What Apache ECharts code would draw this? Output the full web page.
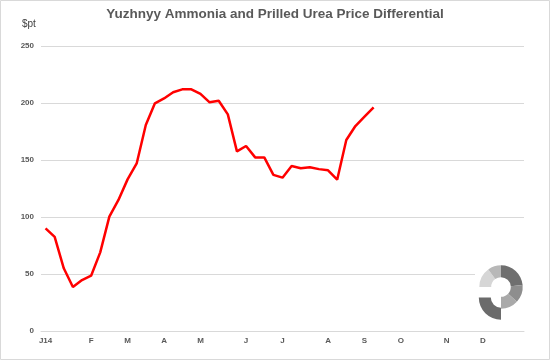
<!DOCTYPE html>
<html>
<head>
<meta charset="utf-8">
<script src="https://cdn.jsdelivr.net/npm/echarts@6/dist/echarts.min.js"></script>
<style>
  html, body { margin: 0; padding: 0; background: #fff; }
  #chart { width: 550px; height: 360px; }
</style>
</head>
<body>
<div id="chart"></div>
<script>
// Weekly categories (first week date of each week, 2014)
const weekDates = [
  '2014-01-02','2014-01-09','2014-01-16','2014-01-23','2014-01-30',
  '2014-02-06','2014-02-13','2014-02-20','2014-02-27',
  '2014-03-06','2014-03-13','2014-03-20','2014-03-27',
  '2014-04-03','2014-04-10','2014-04-17','2014-04-24',
  '2014-05-01','2014-05-08','2014-05-15','2014-05-22','2014-05-29',
  '2014-06-05','2014-06-12','2014-06-19','2014-06-26',
  '2014-07-03','2014-07-10','2014-07-17','2014-07-24','2014-07-31',
  '2014-08-07','2014-08-14','2014-08-21','2014-08-28',
  '2014-09-04','2014-09-11','2014-09-18','2014-09-25',
  '2014-10-02','2014-10-09','2014-10-16','2014-10-23','2014-10-30',
  '2014-11-06','2014-11-13','2014-11-20','2014-11-27',
  '2014-12-04','2014-12-11','2014-12-18','2014-12-25',
  '2015-01-01'
];
// Month tick labels (Jan..Dec)
const monthLabels = ['J14','F','M','A','M','J','J','A','S','O','N','D'];
// Price differential, $/t
const differential = [
  90, 82.5, 55, 38.6, 44.7, 48.5, 69, 100.3, 115, 133, 147, 180.7,
  199.7, 204, 209.4, 212, 212, 208, 200.6, 202, 190, 157.6, 162.3,
  152.3, 152.3, 137, 134.5, 144.7, 142.7, 143.6, 142, 141, 132.7,
  167.5, 179.8, 188, 196.2
];
const yTicks = { min: 0, max: 250, interval: 50 };

const FONT = 'Liberation Sans, Arial, sans-serif';
const chart = echarts.init(document.getElementById('chart'));
const deg = d => d * Math.PI / 180;

function isMonthStart(val) {
  const parts = val.split('-');
  return parts[0] === '2014' && parseInt(parts[2], 10) <= 7;
}

const option = {
  animation: false,
  textStyle: { fontFamily: FONT },
  title: {
    text: 'Yuzhnyy Ammonia and Prilled Urea Price Differential',
    left: 'center',
    top: 7,
    padding: 0,
    textStyle: { fontSize: 13.5, fontWeight: 'bold', color: '#595959', fontFamily: FONT }
  },
  grid: { left: 41, right: 26, top: 46, bottom: 29 },
  xAxis: {
    type: 'category',
    data: weekDates,
    boundaryGap: true,
    axisLine: { lineStyle: { color: '#d9d9d9', width: 1 } },
    axisTick: { show: false },
    splitLine: { show: false },
    axisLabel: {
      interval: (idx, val) => isMonthStart(val),
      formatter: val => isMonthStart(val) ? monthLabels[parseInt(val.split('-')[1], 10) - 1] : '',
      fontSize: 8,
      fontWeight: 'bold',
      color: '#595959',
      margin: 6,
      fontFamily: FONT
    }
  },
  yAxis: {
    type: 'value',
    min: yTicks.min,
    max: yTicks.max,
    interval: yTicks.interval,
    axisLine: { show: false },
    axisTick: { show: false },
    splitLine: { lineStyle: { color: '#d9d9d9', width: 1 } },
    axisLabel: { fontSize: 8, fontWeight: 'bold', color: '#595959', margin: 7, fontFamily: FONT }
  },
  series: [{
    type: 'line',
    data: differential,
    symbol: 'none',
    lineStyle: { color: '#ff0000', width: 2.5 },
    itemStyle: { color: '#ff0000' }
  }],
  graphic: [
    {
      type: 'rect', z: 100, silent: true,
      shape: { x: 0.5, y: 0.5, width: 549, height: 359 },
      style: { fill: 'none', stroke: '#d9d9d9', lineWidth: 1 }
    },
    {
      type: 'text', z: 100, left: 22, top: 19,
      style: { text: '$pt', fontSize: 10, fill: '#404040', fontFamily: FONT }
    },
    {
      type: 'group', z: 100,
      children: [
        { type: 'rect', z: 100, shape: { x: 475, y: 262, width: 52, height: 62 }, style: { fill: '#ffffff' } },
        { type: 'sector', z: 101, shape: { cx: 501, cy: 287, r: 21.7, r0: 9.8, startAngle: deg(-90), endAngle: deg(-5) }, style: { fill: '#6f6f6f' } },
        { type: 'sector', z: 101, shape: { cx: 501, cy: 287, r: 21.7, r0: 9.8, startAngle: deg(-5), endAngle: deg(43) }, style: { fill: '#8e8e8e' } },
        { type: 'sector', z: 101, shape: { cx: 501, cy: 287, r: 21.7, r0: 9.8, startAngle: deg(43), endAngle: deg(90) }, style: { fill: '#a9a9a9' } },
        { type: 'sector', z: 101, shape: { cx: 501, cy: 287, r: 21.7, r0: 9.8, startAngle: deg(180), endAngle: deg(234) }, style: { fill: '#d6d6d6' } },
        { type: 'sector', z: 101, shape: { cx: 501, cy: 287, r: 21.7, r0: 9.8, startAngle: deg(234), endAngle: deg(270) }, style: { fill: '#b8b8b8' } },
        { type: 'sector', z: 101, shape: { cx: 501, cy: 297.5, r: 22.2, r0: 10.2, startAngle: deg(90), endAngle: deg(180) }, style: { fill: '#6b6b6b' } }
      ]
    }
  ]
};
chart.setOption(option);
</script>
</body>
</html>
